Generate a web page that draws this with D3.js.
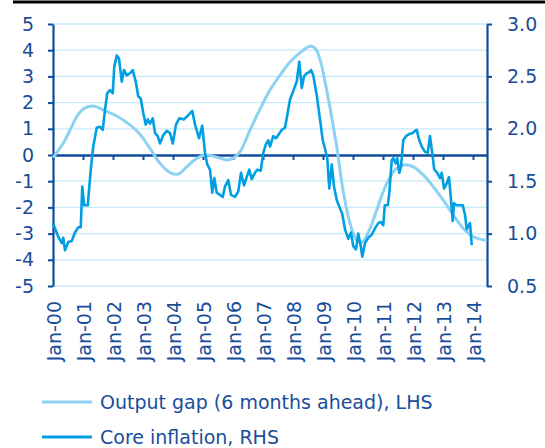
<!DOCTYPE html>
<html>
<head>
<meta charset="utf-8">
<script src="https://cdn.jsdelivr.net/npm/d3@7"></script>
<style>
  html, body { margin: 0; padding: 0; background: #fff; }
  svg { display: block; }
  text { font-family: "DejaVu Sans", sans-serif; fill: #1a4d99; }
</style>
</head>
<body>
<svg id="chart" width="545" height="448"></svg>
<script>
// ---- Data (months since Jan-2000) ----
const tickLabels = ["Jan-00","Jan-01","Jan-02","Jan-03","Jan-04","Jan-05","Jan-06","Jan-07",
                    "Jan-08","Jan-09","Jan-10","Jan-11","Jan-12","Jan-13","Jan-14"];
const leftTicks = [-5,-4,-3,-2,-1,0,1,2,3,4,5];
const rightTicks = [0.5,1.0,1.5,2.0,2.5,3.0];

// Output gap (6 months ahead), LHS
const gapMonths = [0,4.1,6.8,9.5,12.1,16.1,20.1,25.5,30.8,34.8,38.8,42.8,46.8,50.1,53.5,57.5,60.8,65.5,
  69.5,72.1,74.8,78.8,82.8,86.8,90.8,94.8,98.8,102.8,104.8,106.8,108.8,110.8,113.5,116.1,118.8,121.5,
  123.6,126.8,129.5,132.1,134.8,137.5,140.8,144.1,148.1,152.1,156.1,160.1,164.1,168.1,172.1,173.6];
const gapValues = [-0.1,0.45,0.95,1.46,1.76,1.87,1.72,1.49,1.15,0.79,0.25,-0.32,-0.67,-0.73,-0.45,-0.13,0.0,-0.08,
  -0.19,-0.12,0.12,0.95,1.75,2.48,3.05,3.55,3.9,4.15,4.08,3.65,2.8,1.8,0.3,-1.4,-2.6,-3.25,
  -3.33,-2.8,-2.1,-1.4,-0.85,-0.5,-0.37,-0.45,-0.76,-1.21,-1.72,-2.29,-2.8,-3.12,-3.24,-3.24];

// Core inflation, RHS
const coreMonths = [0,2.1,3.5,4.1,4.8,6.1,7.5,8.8,10.1,11.1,11.7,12.5,13.9,15.1,16.1,17.5,18.8,19.9,20.8,21.7,
  22.8,23.9,24.5,25.5,26.4,27.5,28.4,29.5,30.8,31.9,33.2,34.1,35.1,36.1,37.1,37.9,38.8,39.9,40.8,41.9,
  42.8,44.1,45.5,46.8,47.9,49.2,50.5,52.4,54.1,55.7,56.8,58.4,59.7,60.8,61.7,62.8,63.7,64.5,65.5,66.8,
  67.9,68.8,70.1,71.2,72.8,74.1,75.2,76.4,77.5,78.5,79.5,80.8,81.7,83.1,84.1,85.1,86.1,86.8,88.1,89.2,
  90.4,91.5,92.8,93.7,94.8,96.1,97.5,98.5,99.5,100.4,101.5,102.5,103.2,104.1,105.5,106.8,107.9,108.8,109.7,110.5,
  111.5,112.4,113.5,114.8,115.7,116.8,118.1,119.2,120.1,121.2,122.1,123.1,123.7,124.8,126.1,127.5,128.8,130.1,131.1,132.1,
  132.7,133.9,134.5,135.5,136.1,137.1,137.7,138.5,139.2,140.1,141.2,142.5,143.9,144.8,145.5,146.5,147.5,148.8,149.9,150.8,
  151.7,152.5,153.7,154.8,155.5,156.4,157.5,158.4,159.2,159.9,160.4,161.5,162.8,163.9,164.8,165.5,166.1,166.8,167.5];
const coreValues = [1.10,0.97,0.91,0.96,0.84,0.92,0.93,1.01,1.06,1.06,1.45,1.27,1.27,1.61,1.83,2.01,2.02,1.99,2.18,2.34,
  2.37,2.34,2.59,2.70,2.67,2.45,2.56,2.51,2.53,2.56,2.44,2.31,2.29,2.15,2.04,2.09,2.05,2.10,1.96,1.93,
  1.86,1.94,1.98,1.96,1.86,2.04,2.10,2.09,2.13,2.17,2.04,1.91,2.03,1.77,1.66,1.61,1.39,1.53,1.39,1.37,
  1.35,1.45,1.51,1.37,1.35,1.40,1.58,1.46,1.54,1.61,1.52,1.58,1.61,1.60,1.77,1.85,1.89,1.83,1.93,1.91,
  1.95,1.99,2.01,2.13,2.28,2.36,2.45,2.64,2.39,2.50,2.53,2.54,2.56,2.51,2.32,2.09,1.89,1.81,1.72,1.43,
  1.66,1.45,1.32,1.24,1.19,1.04,0.95,1.01,0.88,0.85,1.00,0.88,0.78,0.91,0.96,0.99,1.05,1.10,1.11,1.08,
  1.27,1.27,1.38,1.70,1.72,1.67,1.72,1.58,1.64,1.89,1.93,1.95,1.96,1.98,1.99,1.89,1.83,1.78,1.77,1.93,
  1.77,1.61,1.58,1.53,1.58,1.43,1.48,1.54,1.32,1.12,1.29,1.27,1.27,1.27,1.18,1.04,1.07,1.10,0.89];

const legendLabels = ["Output gap (6 months ahead), LHS", "Core inflation, RHS"];
const colors = { gap: "#8dd2f3", core: "#009fe3", axis: "#0f4c9c", grid: "#c8eaf8" };

// ---- Layout ----
const svg = d3.select("#chart");
const plotL = 53, plotR = 487, plotT = 24, plotB = 286;

const x = d3.scaleLinear().domain([0, 173.6]).range([plotL, plotR]);
const yL = d3.scaleLinear().domain([-5, 5]).range([plotB, plotT]);
const yR = d3.scaleLinear().domain([0.5, 3.0]).range([plotB, plotT]);

// top black rule
svg.append("rect").attr("x", 13).attr("y", 0.5).attr("width", 532).attr("height", 3).attr("fill", "#000");

// gridlines
svg.append("g").selectAll("line").data(leftTicks.filter(d => d !== 0)).join("line")
  .attr("x1", plotL).attr("x2", plotR)
  .attr("y1", d => yL(d)).attr("y2", d => yL(d))
  .attr("stroke", colors.grid).attr("stroke-width", 1.3);

// left axis
const axL = svg.append("g").attr("transform", `translate(${plotL},0)`)
  .call(d3.axisLeft(yL).tickValues(leftTicks).tickSize(5).tickSizeOuter(0).tickPadding(14).tickFormat(d => String(d)));
// right axis
const axR = svg.append("g").attr("transform", `translate(${plotR},0)`)
  .call(d3.axisRight(yR).tickValues(rightTicks).tickSize(5).tickSizeOuter(0).tickPadding(15).tickFormat(d => d.toFixed(1)));
[axL, axR].forEach(a => {
  a.select(".domain").attr("stroke", colors.axis).attr("stroke-width", 2.2);
  a.selectAll(".tick line").attr("stroke", colors.axis).attr("stroke-width", 2);
  a.selectAll(".tick text").attr("font-size", 19).attr("fill", "#1a4d99")
    .attr("font-family", "DejaVu Sans, sans-serif");
});

// zero line as x axis with yearly ticks
const xTickVals = tickLabels.map((_, i) => i * 12);
const axX = svg.append("g").attr("transform", `translate(0,${yL(0)})`)
  .call(d3.axisBottom(x).tickValues(xTickVals).tickSize(5).tickSizeOuter(0).tickFormat(""));
axX.select(".domain").attr("stroke", colors.axis).attr("stroke-width", 2.6);
axX.selectAll(".tick line").attr("stroke", colors.axis).attr("stroke-width", 2);

// x labels at bottom, rotated
svg.append("g").selectAll("text").data(tickLabels).join("text")
  .attr("transform", (d, i) => `translate(${x(xTickVals[i]) + 1},301) rotate(-90)`)
  .attr("text-anchor", "end").attr("dy", "0.36em")
  .attr("font-size", 19).text(d => d);

// lines
const gapData = gapMonths.map((m, i) => [m, gapValues[i]]);
const coreData = coreMonths.map((m, i) => [m, coreValues[i]]);

svg.append("path").datum(gapData)
  .attr("d", d3.line().x(d => x(d[0])).y(d => yL(d[1])).curve(d3.curveCatmullRom.alpha(0.5)))
  .attr("fill", "none").attr("stroke", colors.gap).attr("stroke-width", 3);

svg.append("path").datum(coreData)
  .attr("d", d3.line().x(d => x(d[0])).y(d => yR(d[1])))
  .attr("fill", "none").attr("stroke", colors.core).attr("stroke-width", 2.6)
  .attr("stroke-linejoin", "round");

// legend
const leg = svg.append("g");
const legColors = [colors.gap, colors.core];
const legY = [402, 437];
legendLabels.forEach((t, i) => {
  leg.append("line").attr("x1", 42).attr("x2", 92).attr("y1", legY[i]).attr("y2", legY[i])
    .attr("stroke", legColors[i]).attr("stroke-width", 3);
  leg.append("text").attr("x", 100).attr("y", legY[i] + 7).attr("font-size", 19).text(t);
});
</script>
</body>
</html>
